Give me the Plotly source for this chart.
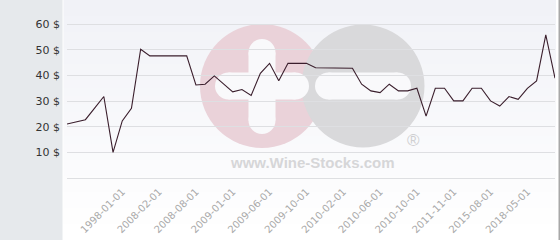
import plotly.graph_objects as go

# ---- data ----
price_values = [
    21.1, 22.0, 22.8, 27.3, 31.8, 10.1, 22.3, 27.2, 50.2, 47.6,
    47.6, 47.6, 47.6, 47.6, 36.3, 36.6, 39.8, 36.7, 33.6, 34.5,
    32.2, 40.8, 44.7, 37.9, 44.7, 44.7, 44.7, 43.0, 43.0, 43.0,
    43.0, 42.8, 36.6, 34.0, 33.3, 36.6, 34.0, 34.0, 35.0, 24.2,
    35.0, 35.0, 30.1, 30.1, 35.0, 35.0, 30.1, 28.1, 31.8, 30.7,
    35.0, 37.9, 55.8, 38.9,
]
point_index = list(range(len(price_values)))
label_index = [6, 10, 14, 18, 22, 26, 30, 34, 38, 42, 46, 50]
date_labels = ["1998-01-01", "2008-02-01", "2008-08-01", "2009-01-01",
               "2009-06-01", "2009-10-01", "2010-02-01", "2010-06-01",
               "2010-10-01", "2011-11-01", "2015-08-01", "2018-05-01"]
y_ticks = [0, 10, 20, 30, 40, 50, 60]
y_labels = ["", "10 $", "20 $", "30 $", "40 $", "50 $", "60 $"]

W, H = 560, 240
L, R, T, B = 67, 5, 0, 61
PW, PH = W - L - R, H - T - B


def px(x):
    return (x - L) / PW


def py(y):
    return (PH - (y - T)) / PH


shapes = []
# left gray panel
shapes.append(dict(type="rect", xref="paper", yref="paper", x0=px(0), x1=px(62.5),
                   y0=py(H), y1=py(0), fillcolor="#e6e9ec", line_width=0, layer="below"))
# gradient background bands
n = 30
top = (241, 242, 247)
for i in range(n):
    t = i / (n - 1)
    c = tuple(round(top[k] + (255 - top[k]) * t) for k in range(3))
    shapes.append(dict(type="rect", xref="paper", yref="paper", x0=px(63.5), x1=px(556),
                       y0=py(H * (i + 1) / n), y1=py(H * i / n),
                       fillcolor="rgb(%d,%d,%d)" % c, line_width=0, layer="below"))
# right border
shapes.append(dict(type="rect", xref="paper", yref="paper", x0=px(558.5), x1=px(560),
                   y0=py(H), y1=py(0), fillcolor="#a8a8a8", line_width=0, layer="below"))


def circ(cx, cy, r, color):
    shapes.append(dict(type="circle", xref="paper", yref="paper",
                       xsizemode="pixel", ysizemode="pixel",
                       xanchor=px(cx), yanchor=py(cy),
                       x0=-r, x1=r, y0=-r, y1=r,
                       fillcolor=color, line_width=0, layer="below"))


def rect(x0, y0, x1, y1, color):
    shapes.append(dict(type="rect", xref="paper", yref="paper",
                       x0=px(x0), x1=px(x1), y0=py(y1), y1=py(y0),
                       fillcolor=color, line_width=0, layer="below"))


def hbar(x0, x1, yc, h, color):
    r = h / 2
    rect(x0 + r, yc - r, x1 - r, yc + r, color)
    circ(x0 + r, yc, r, color)
    circ(x1 - r, yc, r, color)


def vbar(xc, y0, y1, w, color):
    r = w / 2
    rect(xc - r, y0 + r, xc + r, y1 - r, color)
    circ(xc, y0 + r, r, color)
    circ(xc, y1 - r, r, color)


PINK = "#ead2d9"
GRAY = "#d9d9db"
WHITE = "#f9f9fb"
circ(262, 86, 62, PINK)
circ(363, 86, 61.5, GRAY)
vbar(262, 39, 134, 27, WHITE)
hbar(215, 309, 86, 27, WHITE)
hbar(315, 411, 86, 27, WHITE)

fig = go.Figure()
fig.add_trace(go.Scatter(
    x=point_index, y=price_values, mode="lines",
    line=dict(color="#3a1e2c", width=1.1), hoverinfo="skip", showlegend=False,
))

k = 154.3 / 60
v0 = -(PH - 178.3) / k
v1 = v0 + PH / k

fig.update_layout(
    width=W, height=H,
    margin=dict(l=L, r=R, t=T, b=B),
    paper_bgcolor="white",
    plot_bgcolor="rgba(0,0,0,0)",
    shapes=shapes,
    showlegend=False,
    annotations=[
        dict(text="<b>www.Wine-Stocks.com</b>", xref="paper", yref="paper",
             x=px(312), y=py(162), xanchor="center", yanchor="middle", showarrow=False,
             font=dict(family="Liberation Sans", size=15, color="#d6d6d8")),
        dict(text="®", xref="paper", yref="paper",
             x=px(413), y=py(140), xanchor="center", yanchor="middle", showarrow=False,
             font=dict(family="Liberation Sans", size=17, color="#cfcfd1")),
    ],
    xaxis=dict(
        range=[0, len(price_values) - 1],
        tickvals=label_index, ticktext=date_labels,
        tickangle=-45, showgrid=False, zeroline=False, showline=False,
        ticks="", ticklabelstandoff=4,
        tickfont=dict(family="DejaVu Sans", size=10, color="#a9a9a9"),
    ),
    yaxis=dict(
        range=[v0, v1],
        tickvals=y_ticks, ticktext=y_labels,
        showgrid=True, gridcolor="#dedfe2", gridwidth=1,
        zeroline=True, zerolinecolor="#dedfe2", zerolinewidth=1,
        showline=False, ticks="", ticklabelstandoff=6,
        tickfont=dict(family="DejaVu Sans", size=11, color="#333333"),
    ),
)

fig.write_html("out.html")
